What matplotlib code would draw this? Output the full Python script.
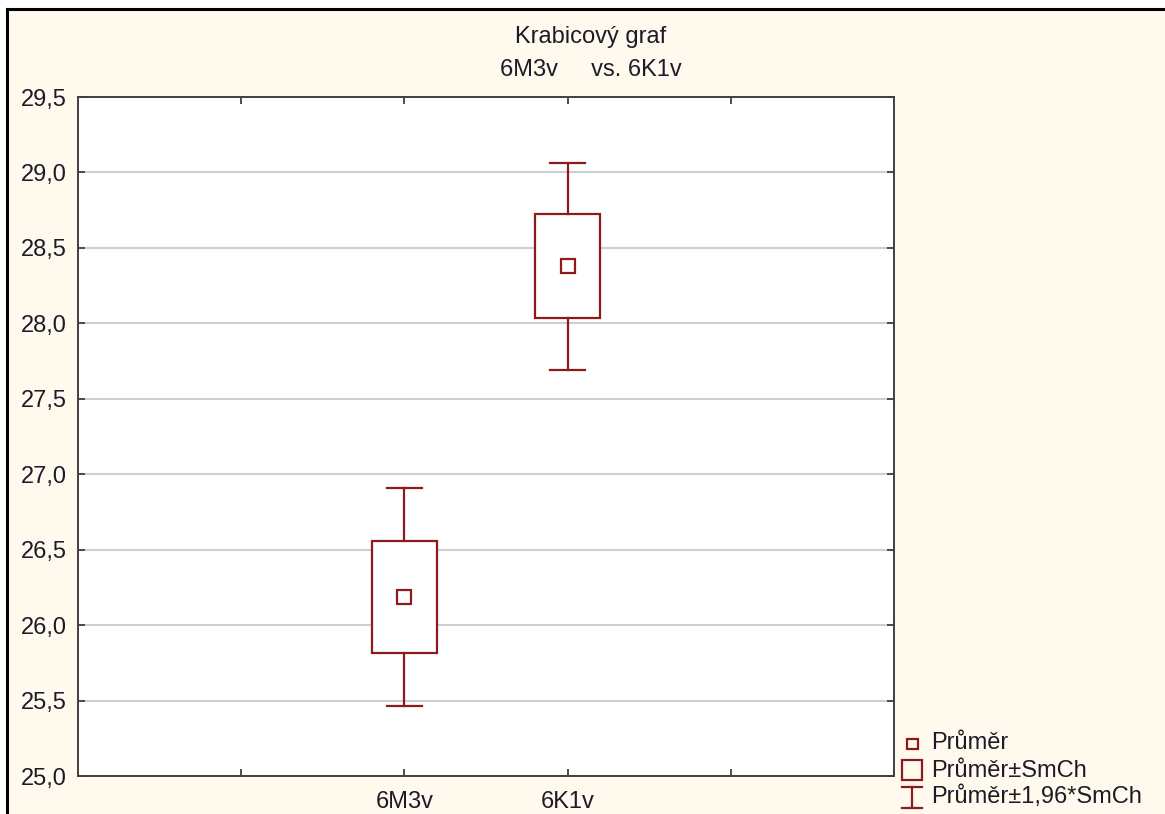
import matplotlib
matplotlib.use("Agg")
import matplotlib.pyplot as plt
from matplotlib.patches import Rectangle
from matplotlib.lines import Line2D

plt.rcParams['font.family'] = ['Liberation Sans', 'DejaVu Sans']

# ---- data ----
categories = ["6M3v", "6K1v"]
means = [26.186, 28.380]
se_low = [25.815, 28.035]
se_high = [26.557, 28.724]
ci_low = [25.464, 27.690]
ci_high = [26.909, 29.062]
tick_labels = ["", "6M3v", "6K1v", ""]
legend_labels = ["Průměr", "Průměr±SmCh", "Průměr±1,96*SmCh"]

W, H = 1165, 814
fig = plt.figure(figsize=(W / 100, H / 100), dpi=100)
fig.patch.set_facecolor("white")

cream = "#FFF9EE"
red = "#8E1B1B"
txt = "#1C1C28"
FS = 17

# background frame
fig.patches.append(Rectangle((7 / W, 0), 1 - 7 / W, 1 - 9 / H, transform=fig.transFigure,
                             facecolor=cream, edgecolor="none", zorder=-10))
fig.lines.append(Line2D([7 / W, 1], [1 - 9 / H, 1 - 9 / H], transform=fig.transFigure,
                        color="black", lw=2.2, zorder=1))
fig.lines.append(Line2D([7 / W, 7 / W], [0, 1 - 9 / H], transform=fig.transFigure,
                        color="black", lw=2.2, zorder=1))

ax = fig.add_axes([78 / W, 1 - 776 / H, (894 - 78) / W, (776 - 97) / H])
ax.set_facecolor("white")
ax.set_xlim(0, 5)
ax.set_ylim(25.0, 29.5)

yt = [25.0 + 0.5 * i for i in range(10)]
ax.set_yticks(yt)
ax.set_yticklabels([f"{v:.1f}".replace(".", ",") for v in yt], fontsize=FS, color=txt)
ax.set_xticks([1, 2, 3, 4])
ax.set_xticklabels(tick_labels, fontsize=FS, color=txt)
ax.tick_params(axis="both", direction="in", length=5, width=1.3, color="#404040",
               top=True, right=True)
ax.tick_params(axis="y", pad=8)
ax.tick_params(axis="x", pad=11)
for s in ax.spines.values():
    s.set_color("#404040")
    s.set_linewidth(1.4)
ax.yaxis.grid(True, color="#CFCFCF", lw=1.5)
ax.set_axisbelow(True)

positions = [2, 3]
box_w = 0.40
cap_w = 0.21
for x, m, sl, sh, cl, ch in zip(positions, means, se_low, se_high, ci_low, ci_high):
    ax.add_patch(Rectangle((x - box_w / 2, sl), box_w, sh - sl, facecolor="white",
                           edgecolor=red, lw=1.6, zorder=3))
    ax.plot([x, x], [sh, ch], color=red, lw=1.6, zorder=3)
    ax.plot([x, x], [cl, sl], color=red, lw=1.6, zorder=3)
    ax.plot([x - cap_w / 2, x + cap_w / 2], [ch, ch], color=red, lw=1.6, zorder=3)
    ax.plot([x - cap_w / 2, x + cap_w / 2], [cl, cl], color=red, lw=1.6, zorder=3)
    ax.plot([x], [m], marker="s", ms=9.5, mfc="white", mec=red, mew=1.6, zorder=4)

# title
fig.text(591 / W, 1 - 37 / H, "Krabicový graf", ha="center", va="center", fontsize=FS, color=txt)
fig.text(591 / W, 1 - 70 / H, "6M3v     vs. 6K1v", ha="center", va="center", fontsize=FS, color=txt)

# legend (manual)
def fx(px):
    return px / W

def fy(py):
    return 1 - py / H

tx = 931
rows = [743, 771, 797]
fig.patches.append(Rectangle((fx(907), fy(749)), 11 / W, 10 / H, transform=fig.transFigure,
                             facecolor="none", edgecolor=red, lw=1.6))
fig.patches.append(Rectangle((fx(902), fy(780)), 20 / W, 20 / H, transform=fig.transFigure,
                             facecolor="none", edgecolor=red, lw=1.6))
fig.lines.append(Line2D([fx(912), fx(912)], [fy(787), fy(808)], transform=fig.transFigure, color=red, lw=1.6))
fig.lines.append(Line2D([fx(902), fx(922)], [fy(787), fy(787)], transform=fig.transFigure, color=red, lw=1.6))
fig.lines.append(Line2D([fx(902), fx(922)], [fy(808), fy(808)], transform=fig.transFigure, color=red, lw=1.6))
for lab, r in zip(legend_labels, rows):
    fig.text(fx(tx), fy(r), lab, ha="left", va="center", fontsize=FS, color=txt)

fig.savefig("out.png", dpi=100, facecolor=fig.get_facecolor())
